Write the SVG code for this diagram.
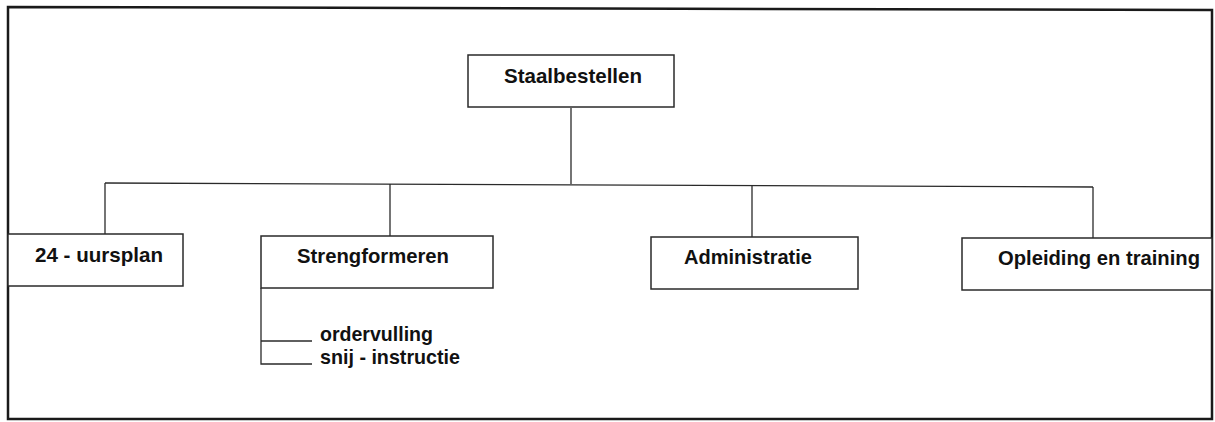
<svg xmlns="http://www.w3.org/2000/svg" width="1215" height="422" viewBox="0 0 1215 422">
<style>
.frame{fill:none;stroke:#1a1a1a;stroke-width:2.5}
.box{fill:#fff;stroke:#2a2a2a;stroke-width:1.5}
.con{fill:none;stroke:#2a2a2a;stroke-width:1.3}
.t{font-family:"Liberation Sans",Arial,sans-serif;font-weight:bold;font-size:21px;fill:#111}
</style>
<rect width="1215" height="422" fill="#fff"/>
<path class="frame" d="M8,7 L1212,10 L1212,419 L8,419 Z"/>
<g id="connectors">
<path class="con" d="M571,108 L571,184"/>
<path class="con" d="M105,183 L1093,187"/>
<path class="con" d="M105,183 L105,234"/>
<path class="con" d="M390,184 L390,236"/>
<path class="con" d="M752,185 L752,237"/>
<path class="con" d="M1093,187 L1093,238"/>
<path class="con" d="M261,288 L261,364 L312,364"/>
<path class="con" d="M261,341 L312,341"/>
</g>
<g id="n-staal">
<rect class="box" x="468" y="55" width="206" height="52"/>
<text class="t" x="504" y="83" textLength="138" lengthAdjust="spacingAndGlyphs">Staalbestellen</text>
</g>
<g id="n-24">
<rect class="box" x="8" y="234" width="175" height="52"/>
<text class="t" x="35" y="262" textLength="128" lengthAdjust="spacingAndGlyphs">24 - uursplan</text>
</g>
<g id="n-streng">
<rect class="box" x="261" y="236" width="232" height="52"/>
<text class="t" x="297" y="263" textLength="152" lengthAdjust="spacingAndGlyphs">Strengformeren</text>
</g>
<g id="n-admin">
<rect class="box" x="651" y="237" width="207" height="52"/>
<text class="t" x="684" y="264" textLength="128" lengthAdjust="spacingAndGlyphs">Administratie</text>
</g>
<g id="n-opl">
<rect class="box" x="962" y="238" width="250" height="52"/>
<text class="t" x="998" y="265" textLength="202" lengthAdjust="spacingAndGlyphs">Opleiding en training</text>
</g>
<g id="n-sub">
<text class="t" x="320" y="341" textLength="113" lengthAdjust="spacingAndGlyphs">ordervulling</text>
<text class="t" x="320" y="364" textLength="140" lengthAdjust="spacingAndGlyphs">snij - instructie</text>
</g>
</svg>
